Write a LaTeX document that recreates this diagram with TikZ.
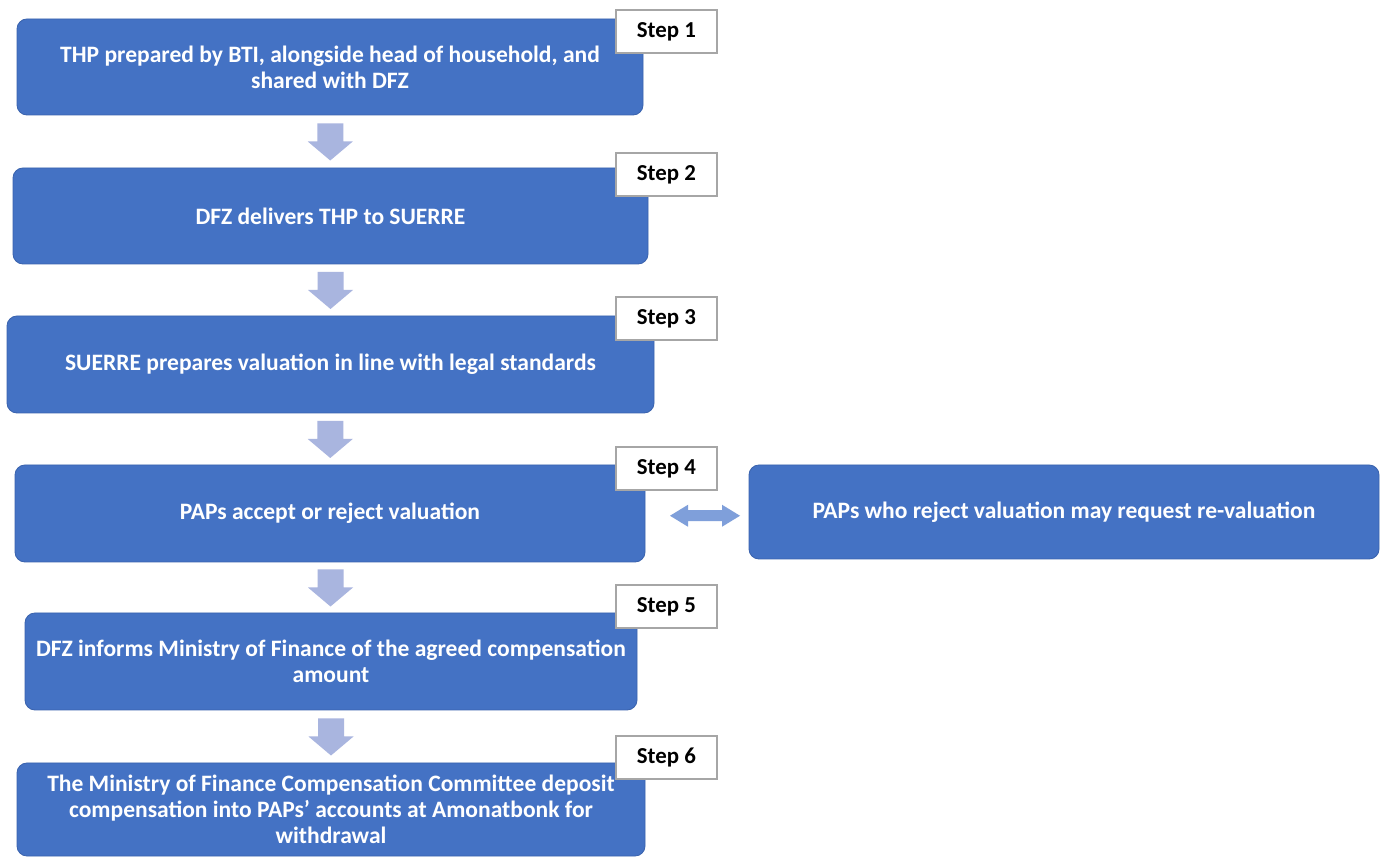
\documentclass[tikz,border=0pt]{standalone}
\usepackage{fontspec}
\setmainfont{Carlito}
\usetikzlibrary{calc}
\definecolor{boxblue}{HTML}{4472C4}
\definecolor{boxline}{HTML}{3A63AE}
\definecolor{arrowblue}{HTML}{A9B5DF}
\definecolor{linkblue}{HTML}{7F9FDA}
\definecolor{labelgray}{HTML}{A6A6A6}
\begin{document}
\begin{tikzpicture}[x=0.02cm,y=-0.02cm,
  flowbox/.style={draw=boxline,line width=0.5pt,fill=boxblue,rounded corners=0.2cm,
    inner sep=0pt,text=white,align=center,font=\bfseries\fontsize{13.4}{14.8}\selectfont},
  steplabel/.style={draw=labelgray,line width=1pt,fill=white,inner sep=0pt,
    minimum width=2.02cm,minimum height=0.86cm,font=\bfseries\fontsize{13}{15}\selectfont}]
\newcommand{\flowbox}[6]{
  \node[flowbox,minimum width={(#4-#2)*0.02cm},minimum height={(#5-#3)*0.02cm}]
    (#1) at ({(#2+#4)/2},{(#3+#5)/2}) {#6};
}
\fill[white] (0,0) rectangle (1383,857);
\useasboundingbox (0,0) rectangle (1383,857);

% the six steps
\flowbox{b1}{17}{19}{643}{115}{THP prepared by BTI, alongside head of household, and\\ shared with DFZ}
\flowbox{b2}{13}{168}{648}{264}{DFZ delivers THP to SUERRE}
\flowbox{b3}{7}{316}{654}{413}{SUERRE prepares valuation in line with legal standards}
\flowbox{b4}{15}{465}{645}{562}{PAPs accept or reject valuation}
\flowbox{b5}{25}{613}{637}{710}{DFZ informs Ministry of Finance of the agreed compensation\\ amount}
\flowbox{b6}{17}{763}{645}{856}{The Ministry of Finance Compensation Committee deposit\\
   compensation into PAPs’ accounts at Amonatbonk for\\ withdrawal}
% side box
\flowbox{rev}{749}{465}{1379}{559}{PAPs who reject valuation may request re-valuation}

% block arrows between the steps
\foreach \a/\b in {b1/b2,b2/b3,b3/b4,b4/b5,b5/b6} {
  \coordinate (m-\a) at ($(\a.south)!0.5!(\b.north)$);
  \fill[arrowblue] (m-\a) +(-13,-18) -- +(13,-18) -- +(13,0) -- +(22.5,0)
    -- +(0,19) -- +(-22.5,0) -- +(-13,0) -- cycle;
}
% two-way arrow to the side box
\coordinate (m-rev) at ($(b4.east)!0.5!(rev.west)+(8,3)$);
\fill[linkblue] (m-rev) +(-35,0) -- +(-17,-11) -- +(-17,-5.5) -- +(17,-5.5)
  -- +(17,-11) -- +(35,0) -- +(17,11) -- +(17,5.5) -- +(-17,5.5) -- +(-17,11) -- cycle;

% step labels
\foreach \n/\y in {1/9,2/152,3/296,4/446,5/584,6/735} {
  \node[steplabel,anchor=north west] (s\n) at (615,\y) {Step \n};
}
\end{tikzpicture}
\end{document}
